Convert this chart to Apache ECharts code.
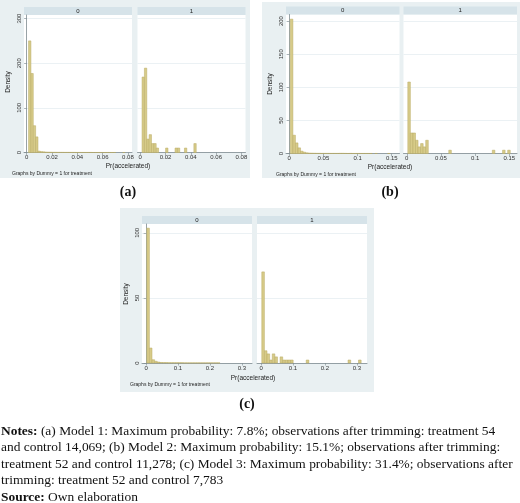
<!DOCTYPE html>
<html>
<head>
<meta charset="utf-8">
<title>Pr(accelerated) by treatment dummy</title>
<script src="https://cdn.jsdelivr.net/npm/echarts@6.0.0/dist/echarts.min.js"></script>
<style>
  html, body { margin: 0; padding: 0; background: #fff; }
  #chart { position: absolute; left: 0; top: 0; width: 520px; height: 503px; }
  .notes {
    position: absolute; left: 1px; top: 423px;
    font-family: 'Liberation Serif', 'Times New Roman', serif;
    font-size: 13.43px; line-height: 16.4px; color: #111; white-space: nowrap;
  }
</style>
</head>
<body>
<div id="chart"></div>
<div class="notes">
  <div><b>Notes:</b> (a) Model 1: Maximum probability: 7.8%; observations after trimming: treatment 54</div>
  <div>and control 14,069; (b) Model 2: Maximum probability: 15.1%; observations after trimming:</div>
  <div>treatment 52 and control 11,278; (c) Model 3: Maximum probability: 31.4%; observations after</div>
  <div>trimming: treatment 52 and control 7,783</div>
  <div><b>Source:</b> Own elaboration</div>
</div>
<script>
const groupNames = ['0', '1'];

// (a) Model 1
const binStartA = 0.0015;
const binWidthA = 0.00186;
const controlA = [250, 177, 60, 35, 3, 2, 1.5, 1, 0.8, 0.6, 0.5, 0.5, 0.4, 0.4, 0.4, 0.3, 0.3, 0.3, 0.3, 0.3,
  0.2, 0.2, 0.2, 0.2, 0.2, 0.2, 0.2, 0.1, 0.1, 0.1, 0.1, 0.1, 0.1, 0.1, 0.1, 0.1, 0.1, 0, 0, 0, 0.1];
const treatA = [169, 189, 30, 40, 20, 20, 10, 0, 0, 0, 10, 0, 0, 0, 10, 10, 0, 0, 10, 0, 0, 0, 20];
const xTicksA = [0, 0.02, 0.04, 0.06, 0.08];
const yTicksA = [0, 100, 200, 300];

// (b) Model 2
const binStartB = 0.0015;
const binWidthB = 0.00375;
const controlB = [203, 27.6, 16, 8.5, 3.5, 2, 1, 0.6, 0.5, 0.4, 0.3, 0.3, 0.2, 0.2, 0.2, 0.2, 0.2, 0.2, 0.2, 0.3,
  0.3, 0.2, 0.1, 0.2, 0.1, 0.1, 0.1, 0.1, 0.1, 0.1, 0.1, 0.1, 0, 0.1, 0, 0, 0, 0, 0.1, 0];
const treatB = [108, 31, 31, 20, 10, 15, 10, 20, 0, 0, 0, 0, 0, 0, 0, 0, 5, 0, 0, 0,
  0, 0, 0, 0, 0, 0, 0, 0, 0, 0, 0, 0, 0, 5, 0, 0, 0, 5, 0, 5];
const xTicksB = [0, 0.05, 0.1, 0.15];
const yTicksB = [0, 50, 100, 150, 200];

// (c) Model 3
const binStartC = 0.002;
const binWidthC = 0.0082;
const controlC = [103.6, 11.5, 2.5, 1.3, 0.7, 0.4, 0.3, 0.3, 0.2, 0.2, 0.2, 0.2, 0.2, 0.2, 0.1, 0.1, 0.1, 0.1, 0.1,
  0.1, 0.1, 0.1, 0.1, 0.1, 0.1, 0.1, 0.1, 0.1, 0, 0, 0, 0, 0, 0, 0, 0, 0, 0];
const treatC = [70, 9.4, 7, 2.3, 7, 4.7, 0, 4.7, 2.3, 2.3, 2.3, 2.3, 0, 0, 0, 0, 0, 2.3, 0, 0,
  0, 0, 0, 0, 0, 0, 0, 0, 0, 0, 0, 0, 0, 2.3, 0, 0, 0, 2.3];
const xTicksC = [0, 0.1, 0.2, 0.3];
const yTicksC = [0, 50, 100];

const BG = '#e9f0f2';
const STRIP = '#d6e3e9';
const AXIS = '#7d8a8f';
const FONT = "'Liberation Sans', Arial, sans-serif";

function toBins(start, width, heights) {
  const out = [];
  heights.forEach((h, i) => {
    if (h > 0) out.push([start + i * width, start + (i + 1) * width, h]);
  });
  return out;
}

function renderBar(params, api) {
  const top = api.coord([api.value(0), api.value(2)]);
  const base = api.coord([api.value(1), 0]);
  return {
    type: 'rect',
    shape: { x: top[0], y: top[1], width: base[0] - top[0], height: base[1] - top[1] },
    style: { fill: '#d7cb89', stroke: '#b9aa62', lineWidth: 0.5 }
  };
}

// layout of the three by-graphs: panel background, plot regions [left, top, width, height]
const panels = [
  { data: [controlA, treatA], start: binStartA, width: binWidthA, xTicks: xTicksA, yTicks: yTicksA,
    xMin: -0.0021, xMax: 0.0832, yMax: 308, bg: [0, 0, 250, 178], strip: 8,
    plots: [[24, 15, 108, 137.5], [137.5, 15, 108, 137.5]],
    density: [8.5, 82], xTitle: [128, 166], byNote: [12, 174], tag: '(a)', tagPos: [128, 192] },
  { data: [controlB, treatB], start: binStartB, width: binWidthB, xTicks: xTicksB, yTicks: yTicksB,
    xMin: -0.0048, xMax: 0.1614, yMax: 210, bg: [262, 2, 258, 176], strip: 8,
    plots: [[286, 14.5, 113.5, 139], [403.5, 14.5, 113.5, 139]],
    density: [270, 84], xTitle: [390, 167], byNote: [276, 175], tag: '(b)', tagPos: [390, 192] },
  { data: [controlC, treatC], start: binStartC, width: binWidthC, xTicks: xTicksC, yTicks: yTicksC,
    xMin: -0.013, xMax: 0.332, yMax: 106.8, bg: [120, 208, 254, 184], strip: 8,
    plots: [[142, 224, 110, 139], [257, 224, 110, 139]],
    density: [126, 294], xTitle: [253, 378.5], byNote: [130, 385], tag: '(c)', tagPos: [247, 404] }
];

const grid = [], xAxis = [], yAxis = [], series = [], graphic = [];

panels.forEach(p => {
  graphic.push({ type: 'rect', z: -10, shape: { x: p.bg[0], y: p.bg[1], width: p.bg[2], height: p.bg[3] },
    style: { fill: BG } });

  p.plots.forEach((r, j) => {
    const idx = grid.length;
    grid.push({ left: r[0], top: r[1], width: r[2], height: r[3], show: true,
      backgroundColor: '#fff', borderWidth: 0 });

    xAxis.push({
      type: 'value', gridIndex: idx, min: p.xMin, max: p.xMax,
      axisLine: { show: true, onZero: false, lineStyle: { color: AXIS, width: 0.8 } },
      axisTick: { show: true, length: 2.5, customValues: p.xTicks, lineStyle: { color: AXIS, width: 0.6 } },
      axisLabel: { customValues: p.xTicks, fontSize: 6, color: '#333', margin: 2, fontFamily: FONT },
      splitLine: { show: false }
    });

    yAxis.push({
      type: 'value', gridIndex: idx, min: 0, max: p.yMax,
      axisLine: { show: j === 0, lineStyle: { color: AXIS, width: 0.8 } },
      axisTick: { show: j === 0, length: 2.5, customValues: p.yTicks, lineStyle: { color: AXIS, width: 0.6 } },
      axisLabel: { show: j === 0, customValues: p.yTicks, rotate: 90, fontSize: 6, color: '#333',
        margin: 1.5, fontFamily: FONT },
      splitLine: { show: true, lineStyle: { color: '#e6eef1', width: 0.8 } }
    });

    series.push({
      type: 'custom', xAxisIndex: idx, yAxisIndex: idx,
      renderItem: renderBar, encode: { x: [0, 1], y: 2 },
      data: toBins(p.start, p.width, p.data[j]), silent: true
    });

    graphic.push({ type: 'rect', shape: { x: r[0], y: r[1] - p.strip, width: r[2], height: p.strip },
      style: { fill: STRIP } });
    graphic.push({ type: 'text', x: r[0] + r[2] / 2, y: r[1] - p.strip / 2,
      style: { text: groupNames[j], fontSize: 6, fill: '#222', align: 'center', verticalAlign: 'middle',
        fontFamily: FONT } });
  });

  graphic.push({ type: 'text', x: p.density[0], y: p.density[1], rotation: Math.PI / 2,
    style: { text: 'Density', fontSize: 6.5, fill: '#222', align: 'center', verticalAlign: 'middle',
      fontFamily: FONT } });
  graphic.push({ type: 'text', x: p.xTitle[0], y: p.xTitle[1],
    style: { text: 'Pr(accelerated)', fontSize: 6.5, fill: '#222', align: 'center', verticalAlign: 'middle',
      fontFamily: FONT } });
  graphic.push({ type: 'text', x: p.byNote[0], y: p.byNote[1],
    style: { text: 'Graphs by Dummy = 1 for treatment', fontSize: 5, fill: '#222', align: 'left',
      verticalAlign: 'middle', fontFamily: FONT } });
  graphic.push({ type: 'text', x: p.tagPos[0], y: p.tagPos[1],
    style: { text: p.tag, fontSize: 14, fontWeight: 'bold', fill: '#111', align: 'center',
      verticalAlign: 'middle', fontFamily: "'Liberation Serif', 'Times New Roman', serif" } });
});

const chart = echarts.init(document.getElementById('chart'), null, { renderer: 'canvas' });
chart.setOption({
  animation: false,
  grid: grid,
  xAxis: xAxis,
  yAxis: yAxis,
  series: series,
  graphic: graphic
});
</script>
</body>
</html>
